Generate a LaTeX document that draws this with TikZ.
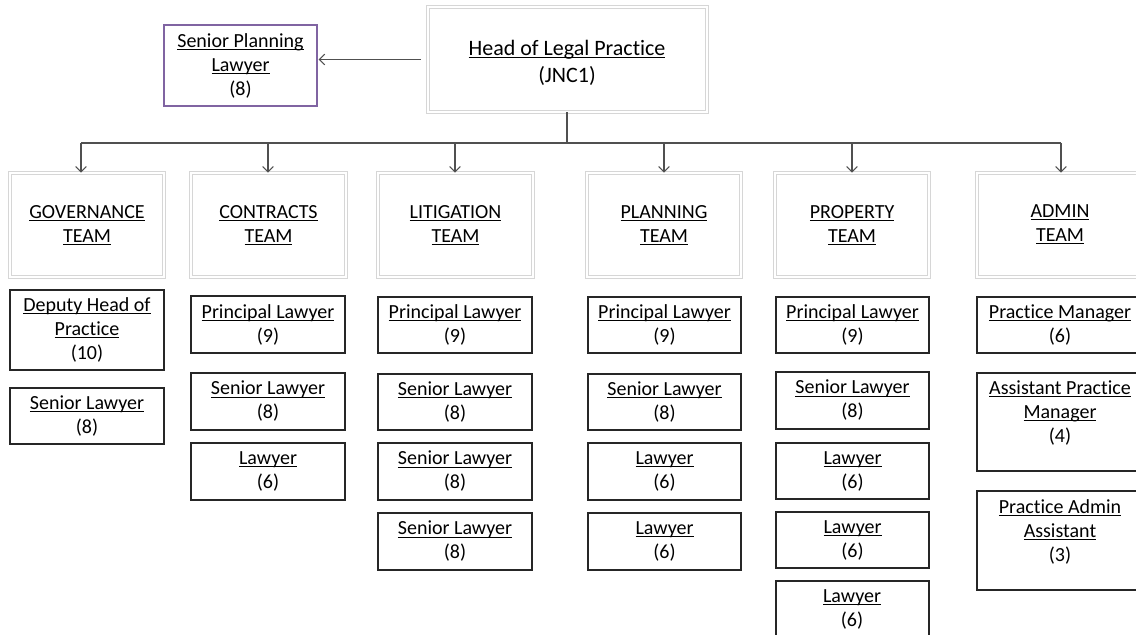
\documentclass[tikz,border=0pt]{standalone}
\usepackage{fontspec}
\setmainfont{Carlito}[Ligatures=NoCommon]
\usetikzlibrary{shadows,arrows.meta}
\newcommand\un[1]{\setbox0\hbox{#1}\leavevmode\rlap{\rule[-2.2pt]{\wd0}{0.75pt}}\box0}
\newcommand\fs{\fontsize{15}{18}\selectfont}
\newcommand\fh{\fontsize{16.5}{20.25}\selectfont}
\newcommand\bx[7]{\node[#1, minimum width={(#5-#3)*0.75pt}, minimum height={(#6-#4)*0.75pt}] (#2) at ({(#3+#5)/2},{(#4+#6)/2}) {#7};}
\definecolor{purp}{HTML}{8064A2}
\definecolor{lnk}{HTML}{505050}
\tikzset{
 lbox/.style={draw=black!85, line width=0.9pt, fill=white, align=center, font=\fs, inner sep=0pt,
   drop shadow={shadow xshift=0.8pt,shadow yshift=-0.8pt,fill=black!30,opacity=0.5}},
 tbox/.style={draw=black!16, line width=0.6pt, double=white, double distance=2.2pt, fill=white, align=center, font=\fs, inner sep=0pt,
   drop shadow={shadow xshift=1pt,shadow yshift=-1.5pt,fill=black!35,opacity=0.45}},
 pbox/.style={draw=purp, line width=0.8pt, fill=white, align=center, font=\fs, inner sep=0pt},
 txt/.style={align=center, font=\fs, inner sep=0pt},
 link/.style={draw=lnk, line width=0.8pt},
 arr/.style={link, -{Straight Barb[length=4pt,width=8pt]}},
}
\begin{document}
\begin{tikzpicture}[x=0.75pt,y=-0.75pt]
\useasboundingbox (0,0) rectangle (1136,635);
% top
\bx{tbox}{head}{428}{7}{707}{112}{}
\node[txt,font=\fh] (headt) at (567,62.5) {\un{Head of Legal Practice}\\(JNC1)};
\bx{pbox}{spl}{164}{25}{317}{106}{\un{Senior Planning}\\\un{Lawyer}\\(8)}
% teams
\bx{tbox}{gov}{10}{173}{164}{277}{\un{GOVERNANCE}\\\un{TEAM}}
\bx{tbox}{con}{191}{173}{346}{277}{\un{CONTRACTS}\\\un{TEAM}}
\bx{tbox}{lit}{378}{173}{533}{277}{\un{LITIGATION}\\\un{TEAM}}
\bx{tbox}{pla}{587}{173}{741}{277}{\un{PLANNING}\\\un{TEAM}}
\bx{tbox}{pro}{775}{173}{929}{277}{\un{PROPERTY}\\\un{TEAM}}
\bx{tbox}{adm}{977}{173}{1145}{277}{}
\node[txt] (admt) at (1060,224.5) {\un{ADMIN}\\\un{TEAM}};
% governance
\bx{lbox}{g1}{10}{290}{164}{370}{\un{Deputy Head of}\\\un{Practice}\\(10)}
\bx{lbox}{g2}{10}{388}{164}{444}{\un{Senior Lawyer}\\(8)}
% contracts
\bx{lbox}{c1}{191}{296}{345}{353}{\un{Principal Lawyer}\\(9)}
\bx{lbox}{c2}{191}{373}{345}{430}{\un{Senior Lawyer}\\(8)}
\bx{lbox}{c3}{191}{443}{345}{500}{\un{Lawyer}\\(6)}
% litigation
\bx{lbox}{l1}{378}{297}{532}{353}{\un{Principal Lawyer}\\(9)}
\bx{lbox}{l2}{378}{374}{532}{430}{\un{Senior Lawyer}\\(8)}
\bx{lbox}{l3}{378}{443}{532}{500}{\un{Senior Lawyer}\\(8)}
\bx{lbox}{l4}{378}{513}{532}{570}{\un{Senior Lawyer}\\(8)}
% planning
\bx{lbox}{p1}{588}{297}{741}{353}{\un{Principal Lawyer}\\(9)}
\bx{lbox}{p2}{588}{374}{741}{430}{\un{Senior Lawyer}\\(8)}
\bx{lbox}{p3}{588}{443}{741}{500}{\un{Lawyer}\\(6)}
\bx{lbox}{p4}{588}{513}{741}{570}{\un{Lawyer}\\(6)}
% property
\bx{lbox}{r1}{776}{297}{929}{353}{\un{Principal Lawyer}\\(9)}
\bx{lbox}{r2}{776}{372}{929}{429}{\un{Senior Lawyer}\\(8)}
\bx{lbox}{r3}{776}{443}{929}{499}{\un{Lawyer}\\(6)}
\bx{lbox}{r4}{776}{512}{929}{568}{\un{Lawyer}\\(6)}
\bx{lbox}{r5}{776}{581}{929}{660}{}
\node[txt] (r5t) at (852,609) {\un{Lawyer}\\(6)};
% admin
\bx{lbox}{a1}{977}{297}{1143}{353}{\un{Practice Manager}\\(6)}
\bx{lbox}{a2}{977}{373}{1143}{471}{}
\node[txt] (a2t) at (1060,413) {\un{Assistant Practice}\\\un{Manager}\\(4)};
\bx{lbox}{a3}{977}{491}{1143}{590}{}
\node[txt] (a3t) at (1060,532) {\un{Practice Admin}\\\un{Assistant}\\(3)};
% connectors
\coordinate (hs) at (567,143);
\coordinate (jg) at (81,143);
\coordinate (jc) at (268,143);
\coordinate (jl) at (455,143);
\coordinate (jp) at (664,143);
\coordinate (jr) at (852,143);
\coordinate (ja) at (1061,143);
\draw[link] (head.south -| hs) -- (hs);
\draw[link] (jg) -- (ja);
\draw[arr] (jg) -- (jg |- gov.north);
\draw[arr] (jc) -- (jc |- con.north);
\draw[arr] (jl) -- (jl |- lit.north);
\draw[arr] (jp) -- (jp |- pla.north);
\draw[arr] (jr) -- (jr |- pro.north);
\draw[arr] (ja) -- (ja |- adm.north);
\draw[arr, shorten <=5pt, shorten >=0.8pt] (head.west) -- (head.west -| spl.east);
\end{tikzpicture}
\end{document}
